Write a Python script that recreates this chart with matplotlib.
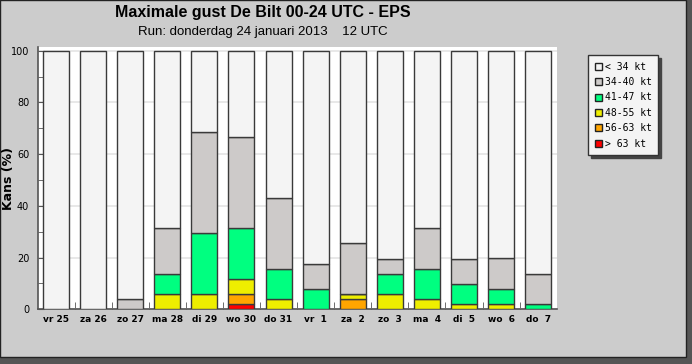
import numpy as np
import matplotlib.pyplot as plt
from matplotlib.patches import Rectangle

# dagen en kansen per klasse (%)
dagen = ['vr 25', 'za 26', 'zo 27', 'ma 28', 'di 29', 'wo 30', 'do 31',
         'vr  1', 'za  2', 'zo  3', 'ma  4', 'di  5', 'wo  6', 'do  7']
k_gt63 = [0, 0, 0, 0, 0, 2.0, 0, 0, 0, 0, 0, 0, 0, 0]
k_56_63 = [0, 0, 0, 0, 0, 3.9, 0, 0, 3.9, 0, 0, 0, 0, 0]
k_48_55 = [0, 0, 0, 5.9, 5.9, 5.9, 3.9, 0, 2.0, 5.9, 3.9, 2.0, 2.0, 0]
k_41_47 = [0, 0, 0, 7.8, 23.5, 19.6, 11.8, 7.8, 0, 7.8, 11.8, 7.8, 5.9, 2.0]
k_34_40 = [0, 0, 3.9, 17.6, 39.2, 35.3, 27.5, 9.8, 19.6, 5.9, 15.7, 9.8, 11.8, 11.8]

klassen = ['> 63 kt', '56-63 kt', '48-55 kt', '41-47 kt', '34-40 kt', '< 34 kt']
kleuren = ['#ff0000', '#ffa500', '#eeee00', '#00ff80', '#cdcac9', '#f4f4f4']

series = [k_gt63, k_56_63, k_48_55, k_41_47, k_34_40]
rest = 100 - np.sum(series, axis=0)
series.append(list(rest))

fig = plt.figure(figsize=(6.92, 3.64), dpi=100)
fig.patch.set_facecolor('#555555')

# paneel met schaduw
fig.patches.append(Rectangle((0, 0.0192), 0.9913, 0.9808, transform=fig.transFigure,
                             facecolor='#cccccc', edgecolor='#222222', linewidth=1.0,
                             zorder=-5))

ax = fig.add_axes([37.5 / 692, 1 - 309.3 / 364, (556.7 - 37.5) / 692, (309.3 - 47) / 364])
ax.set_facecolor('white')

x = np.arange(len(dagen))
bottom = np.zeros(len(dagen))
for waarden, kleur, naam in zip(series, kleuren, klassen):
    ax.bar(x, waarden, width=0.7, bottom=bottom, color=kleur,
           edgecolor='#3a3a3a', linewidth=1.0, label=naam, zorder=3)
    bottom += np.array(waarden)

ax.set_xlim(-0.5, len(dagen) - 0.5)
ax.set_ylim(0, 100 * (309.3 - 47) / (309.3 - 50.7))
ax.set_yticks([0, 20, 40, 60, 80, 100])
ax.set_yticks([10, 30, 50, 70, 90], minor=True)
ax.set_xticks(x)
ax.set_xticklabels(dagen, fontsize=6.5, fontweight='bold')
ax.set_xticks(x[:-1] + 0.5, minor=True)
ax.tick_params(axis='x', which='major', length=0, pad=4)
ax.tick_params(axis='x', which='minor', direction='in', length=5, color='#555555')
ax.tick_params(axis='y', which='both', direction='in', length=4, color='#555555',
               labelsize=7, pad=6)
ax.grid(axis='y', color='#e4e4e4', linewidth=1.2, zorder=0)
for s in ['top', 'right']:
    ax.spines[s].set_visible(False)
for s in ['left', 'bottom']:
    ax.spines[s].set_color('#555555')
    ax.spines[s].set_linewidth(1.2)

fig.text(9 / 692, 1 - 178 / 364, 'Kans (%)', rotation=90, ha='center', va='center',
         fontsize=9, fontweight='bold')

fig.text(263 / 692, 1 - 12 / 364, 'Maximale gust De Bilt 00-24 UTC - EPS',
         ha='center', va='center', fontsize=11.5, fontweight='bold',
         family='Liberation Sans')
fig.text(263 / 692, 1 - 32 / 364, 'Run: donderdag 24 januari 2013    12 UTC',
         ha='center', va='center', fontsize=9.5, family='Liberation Sans')

# legenda in omgekeerde volgorde
h, l = ax.get_legend_handles_labels()
leg = fig.legend(h[::-1], l[::-1], loc='upper left', bbox_to_anchor=(588 / 692, 1 - 55 / 364),
                 frameon=True, fancybox=False, shadow={'color': '#444444', 'alpha': 1},
                 handlelength=0.75, handleheight=0.75, handletextpad=0.25,
                 labelspacing=0.55, borderpad=0.7, borderaxespad=0,
                 prop={'family': 'DejaVu Sans Mono', 'size': 7})
leg.get_frame().set_facecolor('#f4f4f4')
leg.get_frame().set_edgecolor('#333333')
leg.get_frame().set_linewidth(1.0)
for p in leg.get_patches():
    p.set_edgecolor('#222222')

fig.savefig('out.png', dpi=100, facecolor=fig.get_facecolor())
